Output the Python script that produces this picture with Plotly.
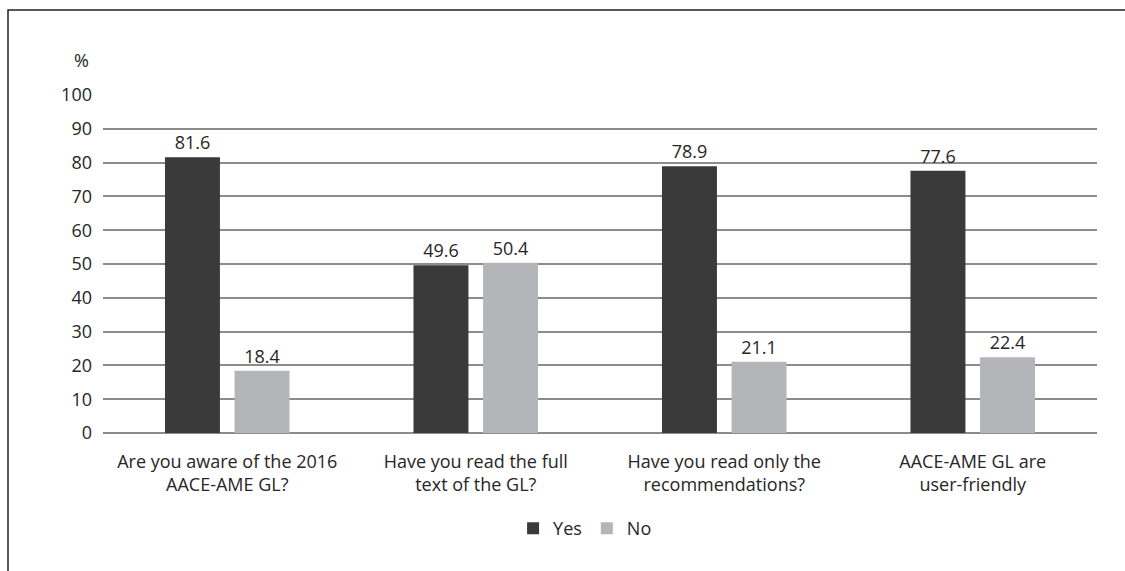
import plotly.graph_objects as go

categories = ["Are you aware of the 2016<br>AACE-AME GL?",
              "Have you read the full<br>text of the GL?",
              "Have you read only the<br>recommendations?",
              "AACE-AME GL are<br>user-friendly"]
yes_vals = [81.6, 49.6, 78.9, 77.6]
no_vals = [18.4, 50.4, 21.1, 22.4]
y_ticks = [0, 10, 20, 30, 40, 50, 60, 70, 80, 90, 100]

FONT = "Open Sans"
TXT = "#262626"
FS = 18

fig = go.Figure()
fig.add_trace(go.Bar(name="Yes", x=categories, y=yes_vals, marker_color="#3a3a3a",
                     marker_line_width=0,
                     text=[f"{v:.1f}" for v in yes_vals], textposition="outside",
                     textfont=dict(size=FS, color=TXT, family=FONT), cliponaxis=False))
fig.add_trace(go.Bar(name="No", x=categories, y=no_vals, marker_color="#b4b5b8",
                     marker_line_width=0,
                     text=[f"{v:.1f}" for v in no_vals], textposition="outside",
                     textfont=dict(size=FS, color=TXT, family=FONT), cliponaxis=False))

fig.update_layout(
    width=1125, height=571,
    margin=dict(l=103, r=28, t=95, b=138),
    paper_bgcolor="white", plot_bgcolor="white",
    barmode="group", bargap=0.44, bargroupgap=0.21,
    font=dict(family=FONT, size=FS, color=TXT),
    showlegend=True,
    legend=dict(orientation="h", x=0.485, xanchor="center", y=-0.228, yanchor="top",
                font=dict(size=FS, color=TXT, family=FONT), traceorder="normal",
                itemwidth=30),
    xaxis=dict(showgrid=False, showline=False, ticks="", tickfont=dict(size=FS, color=TXT),
               ticklabelstandoff=16),
    yaxis=dict(range=[0, 100], tickvals=y_ticks, showgrid=True, gridcolor="#8c8c8c",
               gridwidth=1.5, zeroline=True, zerolinecolor="#8c8c8c", zerolinewidth=1.5,
               showline=False, ticks="", tickfont=dict(size=FS, color=TXT),
               ticklabelstandoff=10),
    annotations=[dict(text="%", xref="paper", yref="paper", x=-0.012, y=1.105,
                      xanchor="right", yanchor="middle", showarrow=False,
                      font=dict(size=FS, color=TXT, family=FONT))],
    shapes=[dict(type="rect", xref="paper", yref="paper",
                 x0=(8 - 103) / 994, x1=1.2, y0=-0.5, y1=(433 - 10) / 338,
                 line=dict(color="#222222", width=1.5), fillcolor="rgba(0,0,0,0)",
                 layer="below")],
)
fig.write_html("out.html")
